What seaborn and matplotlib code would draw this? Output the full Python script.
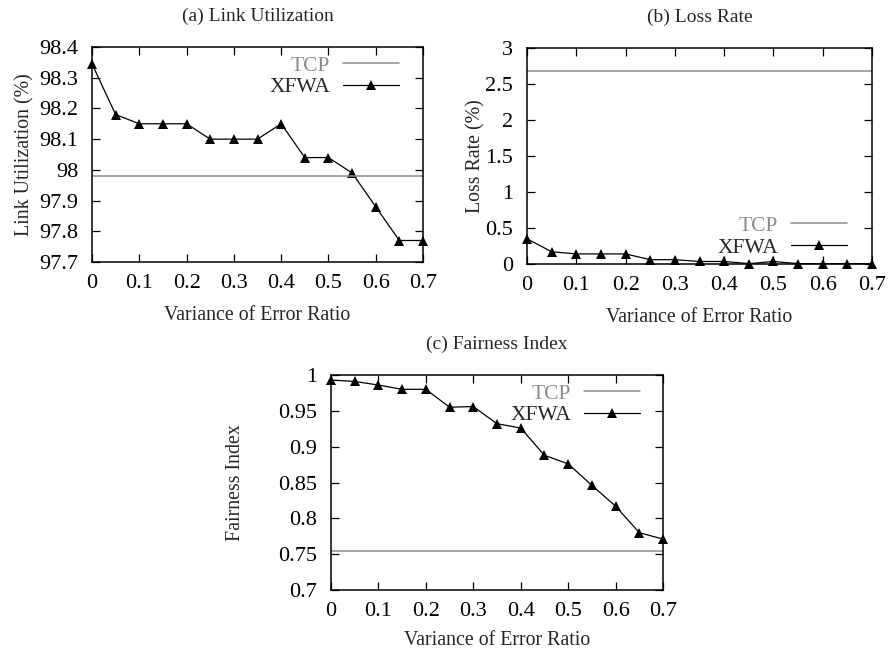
import matplotlib
matplotlib.use("Agg")
import matplotlib.pyplot as plt
import seaborn as sns
import pandas as pd

# Variance of the error ratio (x axis shared by all panels)
variance = [0.0, 0.05, 0.1, 0.15, 0.2, 0.25, 0.3, 0.35, 0.4, 0.45, 0.5, 0.55, 0.6, 0.65, 0.7]

# (a) Link utilization (%)
util_xfwa = [98.345, 98.18, 98.15, 98.15, 98.15, 98.10, 98.10, 98.10, 98.15,
             98.04, 98.04, 97.99, 97.88, 97.77, 97.77]
util_tcp = 97.98

# (b) Loss rate (%)
loss_xfwa = [0.35, 0.17, 0.14, 0.14, 0.14, 0.06, 0.06, 0.035, 0.035,
             0.005, 0.035, 0.005, 0.005, 0.005, 0.005]
loss_tcp = 2.68

# (c) Fairness index
fair_xfwa = [0.993, 0.991, 0.986, 0.980, 0.980, 0.955, 0.956, 0.932, 0.926,
             0.888, 0.876, 0.846, 0.817, 0.780, 0.771]
fair_tcp = 0.755

x_ticks = [0, 0.1, 0.2, 0.3, 0.4, 0.5, 0.6, 0.7]
x_ticklabels = ["0", "0.1", "0.2", "0.3", "0.4", "0.5", "0.6", "0.7"]

util_ticks = [97.7, 97.8, 97.9, 98.0, 98.1, 98.2, 98.3, 98.4]
util_ticklabels = ["97.7", "97.8", "97.9", "98", "98.1", "98.2", "98.3", "98.4"]
loss_ticks = [0, 0.5, 1, 1.5, 2, 2.5, 3]
loss_ticklabels = ["0", "0.5", "1", "1.5", "2", "2.5", "3"]
fair_ticks = [0.7, 0.75, 0.8, 0.85, 0.9, 0.95, 1.0]
fair_ticklabels = ["0.7", "0.75", "0.8", "0.85", "0.9", "0.95", "1"]

sns.set_theme(style="ticks")
plt.rcParams["font.family"] = ["Liberation Serif", "DejaVu Serif"]

W, H = 888, 651
fig = plt.figure(figsize=(W / 100, H / 100), dpi=100)
fig.patch.set_facecolor("white")


def px_axes(left, top, right, bottom):
    return fig.add_axes([left / W, 1 - bottom / H, (right - left) / W, (bottom - top) / H])


TICK_FS = 16
LEGEND_FS = 15.5
LABEL_FS = 14.3
TITLE_FS = 14
TCP_COLOR = "#8c8c8c"


def panel(ax, values, tcp, yticks, yticklabels, ylim, title, ylabel,
          legend_loc, legend_anchor, xlabel_pad=9, ylabel_pad=3):
    df = pd.DataFrame({"variance": variance, "value": values})
    sns.lineplot(data=df, x="variance", y="value", ax=ax, color="black",
                 linewidth=0.9, marker="^", markersize=7.5, markeredgewidth=0,
                 label="XFWA", legend=False)
    ax.lines[-1].set_clip_on(False)
    ax.axhline(tcp, color=TCP_COLOR, linewidth=1.1, label="TCP")
    ax.set_xlim(0, 0.7)
    ax.set_ylim(*ylim)
    ax.set_xticks(x_ticks)
    ax.set_xticklabels(x_ticklabels)
    ax.set_yticks(yticks)
    ax.set_yticklabels(yticklabels)
    ax.tick_params(direction="in", length=6, width=0.9, top=True, right=True,
                   labelsize=TICK_FS, colors="black")
    ax.tick_params(axis="x", pad=9)
    ax.tick_params(axis="y", pad=10)
    for s in ax.spines.values():
        s.set_linewidth(1.1)
        s.set_color("black")
    ax.set_xlabel("Variance of Error Ratio", fontsize=LABEL_FS, labelpad=xlabel_pad)
    ax.set_ylabel(ylabel, fontsize=LABEL_FS, labelpad=ylabel_pad)
    ax.set_title(title, fontsize=TITLE_FS, pad=19)
    handles, labels = ax.get_legend_handles_labels()
    order = [labels.index("TCP"), labels.index("XFWA")]
    leg = ax.legend([handles[i] for i in order], [labels[i] for i in order],
                    loc=legend_loc, bbox_to_anchor=legend_anchor, frameon=False,
                    markerfirst=False, fontsize=LEGEND_FS, handlelength=2.6,
                    handletextpad=0.6, labelspacing=0.08, borderpad=0.0,
                    borderaxespad=0.0)
    leg.get_texts()[0].set_color(TCP_COLOR)
    return ax


ax_a = px_axes(92, 47, 423, 262)
panel(ax_a, util_xfwa, util_tcp, util_ticks, util_ticklabels, (97.7, 98.4),
      "(a) Link Utilization", "Link Utilization (%)", "upper right", (0.927, 0.96),
      ylabel_pad=3)

ax_b = px_axes(527, 48, 872, 264)
panel(ax_b, loss_xfwa, loss_tcp, loss_ticks, loss_ticklabels, (0, 3),
      "(b) Loss Rate", "Loss Rate (%)", "lower right", (0.928, 0.03),
      ylabel_pad=0)

ax_c = px_axes(331, 375, 663, 590)
panel(ax_c, fair_xfwa, fair_tcp, fair_ticks, fair_ticklabels, (0.7, 1.0),
      "(c) Fairness Index", "Fairness Index", "upper right", (0.93, 0.96),
      xlabel_pad=7, ylabel_pad=24)

fig.savefig("out.png", dpi=100, facecolor="white")
